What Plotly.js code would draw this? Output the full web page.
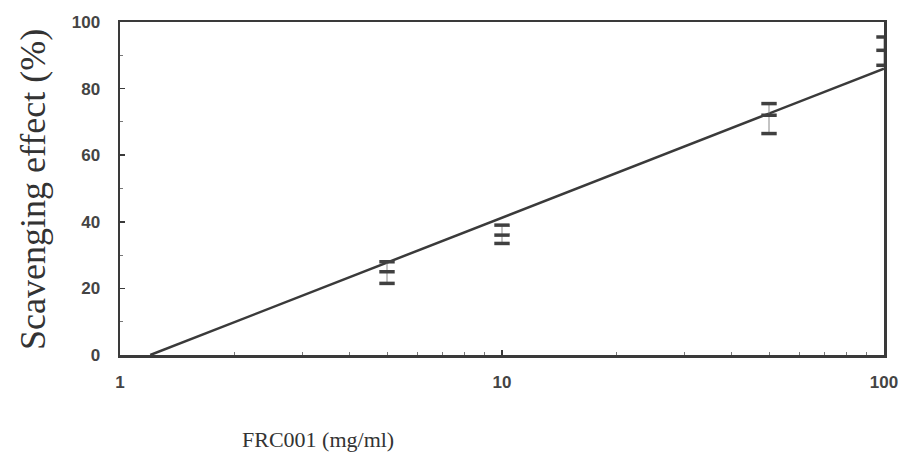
<!DOCTYPE html>
<html>
<head>
<meta charset="utf-8">
<script src="https://cdn.plot.ly/plotly-3.0.1.min.js"></script>
<style>
  html, body { margin: 0; padding: 0; background: #fff; }
  #chart { width: 905px; height: 461px; }
</style>
</head>
<body>
<div id="chart"></div>
<script>
// Concentrations (mg/ml) and measured scavenging effect (%)
const conc = [5, 10, 50, 100];
const meanEffect = [25, 36, 72, 91.5];
const upperEffect = [28, 39, 75.5, 95.5];
const lowerEffect = [21.5, 33.5, 66.5, 87];

// Fitted regression line endpoints
const fitX = [1.2, 100];
const fitY = [0, 86];

// Axis ticks
const xTickVals = [1, 10, 100];
const xTickText = ['1', '10', '100'];
const xMinorVals = [2, 3, 4, 5, 6, 7, 8, 9, 20, 30, 40, 50, 60, 70, 80, 90];
const yTickVals = [0, 20, 40, 60, 80, 100];
const yTickText = ['0', '20', '40', '60', '80', '100'];
const yMinorVals = [10, 30, 50, 70, 90];

const ink = '#3a3a3a';
const dash = { symbol: 'line-ew', size: 11, line: { color: '#404040', width: 3.5 } };

const traces = [
  {
    x: fitX, y: fitY, type: 'scatter', mode: 'lines',
    line: { color: ink, width: 2.5 }, hoverinfo: 'skip', showlegend: false
  },
  {
    x: conc, y: meanEffect, type: 'scatter', mode: 'markers',
    marker: dash,
    error_y: {
      type: 'data', symmetric: false,
      array: upperEffect.map((u, i) => u - meanEffect[i]),
      arrayminus: lowerEffect.map((l, i) => meanEffect[i] - l),
      color: '#888', thickness: 1, width: 0
    },
    showlegend: false
  },
  { x: conc, y: upperEffect, type: 'scatter', mode: 'markers', marker: dash, showlegend: false },
  { x: conc, y: lowerEffect, type: 'scatter', mode: 'markers', marker: dash, showlegend: false }
];

const tickFont = { family: 'Liberation Sans, Arial, sans-serif', size: 17, color: '#444', weight: 'bold' };

const layout = {
  width: 905, height: 461,
  margin: { l: 120, r: 21, t: 22, b: 106 },
  paper_bgcolor: '#fff', plot_bgcolor: '#fff',
  showlegend: false,
  xaxis: {
    type: 'log', range: [0, 2],
    tickvals: xTickVals, ticktext: xTickText,
    ticks: 'inside', ticklen: 5, tickwidth: 1.5, tickcolor: ink,
    minor: { tickvals: xMinorVals, ticks: 'inside', ticklen: 3, tickwidth: 1, tickcolor: '#777' },
    showline: true, linecolor: ink, linewidth: 2.5, mirror: true,
    showgrid: false, zeroline: false,
    tickfont: tickFont, ticklabelstandoff: 10
  },
  yaxis: {
    range: [0, 100],
    tickvals: yTickVals, ticktext: yTickText,
    ticks: 'inside', ticklen: 5, tickwidth: 1.5, tickcolor: ink,
    minor: { tickvals: yMinorVals, ticks: 'inside', ticklen: 3, tickwidth: 1, tickcolor: '#777' },
    showline: true, linecolor: ink, linewidth: 2.5, mirror: true,
    showgrid: false, zeroline: false,
    tickfont: tickFont, ticklabelstandoff: 14
  },
  annotations: [
    {
      text: 'FRC001 (mg/ml)', xref: 'paper', yref: 'paper',
      x: (318 - 120) / 764, y: -(440 - 355) / 333,
      xanchor: 'center', yanchor: 'middle', showarrow: false,
      font: { family: 'Liberation Serif, Times New Roman, serif', size: 22, color: '#333' }
    },
    {
      text: 'Scavenging effect (%)', xref: 'paper', yref: 'paper',
      x: (33 - 120) / 764, y: (355 - 190) / 333,
      xanchor: 'center', yanchor: 'middle', textangle: -90, showarrow: false,
      font: { family: 'Liberation Serif, Times New Roman, serif', size: 36, color: '#333' }
    }
  ]
};

Plotly.newPlot('chart', traces, layout, { displayModeBar: false, staticPlot: true });
</script>
</body>
</html>
